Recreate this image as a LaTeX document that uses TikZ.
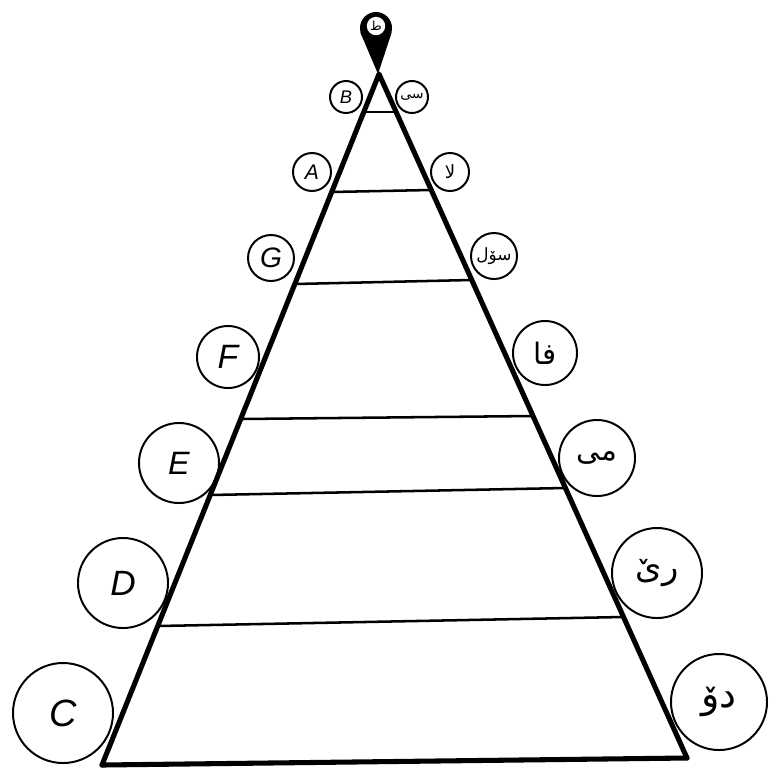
\documentclass[tikz,border=0pt]{standalone}
\usepackage{fontspec}
\setmainfont{Liberation Sans}
\newfontfamily\urdu[Script=Arabic]{DejaVu Sans}
\TeXXeTstate=1
\usetikzlibrary{calc}

\begin{document}
\begin{tikzpicture}[
    x=0.025cm,
    y=-0.025cm,
    side/.style={
        line width=3.6pt,
        line cap=round,
        line join=round
    },
    rung/.style={
        line width=1.8pt
    },
    tone/.style={
        circle,
        draw,
        line width=1.4pt,
        inner sep=0pt,
        minimum size=#1
    },
    latin/.style={
        font=\itshape\fontsize{#1}{#1}\selectfont
    },
    urdutext/.style={
        font=\urdu\fontsize{#1}{#1}\selectfont
    }
]

\useasboundingbox (0,0) rectangle (773,771);

% =========================================================
% LEFT CIRCLES
% =========================================================

\node[tone=0.8cm,  latin=13] (B) at (346,97)  {B};
\node[tone=0.95cm, latin=15] (A) at (312,172) {A};
\node[tone=1.15cm, latin=20] (G) at (271,258) {G};
\node[tone=1.55cm, latin=24] (F) at (228,357) {F};
\node[tone=2.0cm,  latin=23] (E) at (179,463) {E};
\node[tone=2.25cm, latin=25] (D) at (123,583) {D};
\node[tone=2.5cm,  latin=27] (C) at (63,713)  {C};


% =========================================================
% RIGHT CIRCLES
% =========================================================

\node[tone=0.8cm,  urdutext=10] (si)  at (412,97)  {\beginR سی\endR};
\node[tone=0.95cm, urdutext=13] (la)  at (450,172) {\beginR لا\endR};
\node[tone=1.15cm, urdutext=12] (sol) at (494,256) {\beginR سوٚل\endR};
\node[tone=1.6cm,  urdutext=21] (fa)  at (545,353) {\beginR فا\endR};
\node[tone=1.9cm,  urdutext=21] (mi)  at (597,458) {\beginR می\endR};
\node[tone=2.25cm, urdutext=24] (re)  at (657,573) {\beginR ریٚ\endR};
\node[tone=2.4cm,  urdutext=27] (do)  at (719,702) {\beginR دوٚ\endR};


% =========================================================
% TRIANGLE
% =========================================================

\coordinate (top) at (379,74);
\coordinate (bl)  at (102,765);
\coordinate (br)  at (687,758);

\draw[side] (bl) -- (top) -- (br);
\draw[side] (bl) -- (br);

% Rungs
\coordinate (l1) at (364,112); \coordinate (r1) at (396,112);
\coordinate (l2) at (331,192); \coordinate (r2) at (431,190);
\coordinate (l3) at (295,284); \coordinate (r3) at (471,280);
\coordinate (l4) at (241,419); \coordinate (r4) at (533,416);
\coordinate (l5) at (210,495); \coordinate (r5) at (565,488);
\coordinate (l6) at (158,626); \coordinate (r6) at (623,617);

\draw[rung] (l1) -- (r1);
\draw[rung] (l2) -- (r2);
\draw[rung] (l3) -- (r3);
\draw[rung] (l4) -- (r4);
\draw[rung] (l5) -- (r5);
\draw[rung] (l6) -- (r6);


% =========================================================
% PIN AT THE APEX
% =========================================================

\node[circle, fill=black, inner sep=0pt, minimum size=0.8cm] (pin) at (376,28) {};
\coordinate (tip) at (378,74);
\fill (pin.196) -- (tip) -- (pin.-16) -- cycle;

\node[circle, fill=white, inner sep=0pt, minimum size=0.46cm, urdutext=9]
    (ta) at (376,26) {\beginR ط\endR};

\end{tikzpicture}
\end{document}
